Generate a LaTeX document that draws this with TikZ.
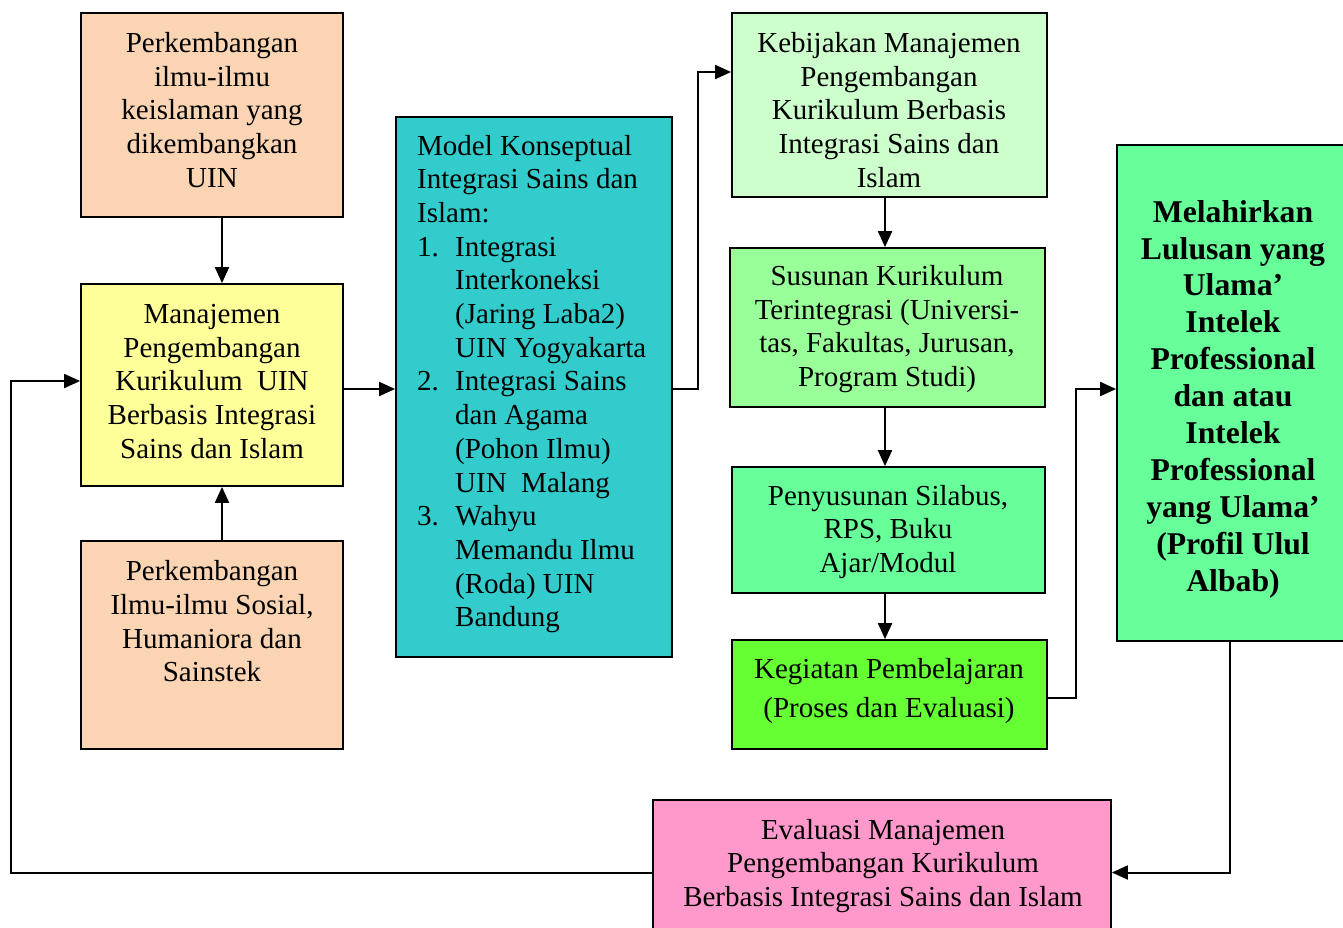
\documentclass[tikz,border=0pt]{standalone}
\usepackage{fontspec}
\setmainfont{Liberation Serif}
\usetikzlibrary{arrows.meta}
\definecolor{peach}{HTML}{FBD4B4}
\definecolor{paleyellow}{HTML}{FFFF99}
\definecolor{teal}{HTML}{33CCCC}
\definecolor{mint}{HTML}{CCFFCC}
\definecolor{lightgreen}{HTML}{99FF99}
\definecolor{seagreen}{HTML}{66FF99}
\definecolor{limegreen}{HTML}{66FF33}
\definecolor{pink}{HTML}{FF99CC}
\begin{document}
\begin{tikzpicture}[x=1pt,y=-1pt,
  box/.style={draw=black, line width=1.8pt, inner sep=0pt},
  txt/.style={font=\fontsize{29}{33.7}\selectfont, align=center, inner sep=0pt},
  conn/.style={line width=2pt, -{Triangle[length=16pt,width=14pt]}},
  line/.style={line width=2pt}]
\useasboundingbox (0,0) rectangle (1343,927);
\begin{scope}
\clip (0,0) rectangle (1343,927);

% boxes
\node[box, fill=peach, minimum width=262pt, minimum height=204pt] (A) at (212,115) {};
\node[box, fill=paleyellow, minimum width=262pt, minimum height=202pt] (B) at (212,385) {};
\node[box, fill=peach, minimum width=262pt, minimum height=208pt] (C) at (212,645) {};
\node[box, fill=teal, minimum width=276pt, minimum height=540pt] (D) at (534,387) {};
\node[box, fill=mint, minimum width=315pt, minimum height=184pt] (E) at (889.5,105) {};
\node[box, fill=lightgreen, minimum width=315pt, minimum height=159pt] (F) at (887.5,327.5) {};
\node[box, fill=seagreen, minimum width=313pt, minimum height=126pt] (G) at (888.5,530) {};
\node[box, fill=limegreen, minimum width=315pt, minimum height=109pt] (H) at (889.5,694.5) {};
\node[box, fill=seagreen, minimum width=243pt, minimum height=496pt] (I) at (1238.5,393) {};
\node[box, fill=pink, minimum width=458pt, minimum height=145pt] (J) at (882,872.5) {};

\coordinate (vx) at (885,0);

% connectors
\draw[conn] ([xshift=10pt]A.south) -- ([xshift=10pt]B.north);
\draw[conn] ([xshift=10pt]C.north) -- ([xshift=10pt]B.south);
\draw[conn] ([yshift=-4pt]B.east) -- ([yshift=-2pt]D.west);
\draw[conn] ([yshift=-2pt]D.east) -- ++(25,0) |- ([yshift=33pt]E.west);
\draw[conn] (E.south -| vx) -- (F.north -| vx);
\draw[conn] (F.south -| vx) -- (G.north -| vx);
\draw[conn] (G.south -| vx) -- (H.north -| vx);
\draw[conn] ([yshift=-3.5pt]H.east) -- ++(28,0) |- ([yshift=4pt]I.west);
\draw[conn] ([xshift=-8.5pt]I.south) |- (J.east);
\draw[conn] (J.west) -- ++(-641,0) |- ([yshift=4pt]B.west);

% texts
\node[txt] (ta) at (212,110) {Perkembangan\\ilmu-ilmu\\keislaman yang\\dikembangkan\\UIN};
\node[txt] (tb) at (212,381.5) {Manajemen\\Pengembangan\\Kurikulum\ \ UIN\\Berbasis Integrasi\\Sains dan Islam};
\node[txt] (tc) at (212,621.5) {Perkembangan\\Ilmu-ilmu Sosial,\\Humaniora dan\\Sainstek};
\node[txt, align=left, anchor=west] (td) at (417,384) {Model Konseptual\\Integrasi Sains dan\\Islam:\\
  \makebox[38pt][l]{1.}Integrasi\\\hspace*{38pt}Interkoneksi\\\hspace*{38pt}(Jaring Laba2)\\\hspace*{38pt}UIN Yogyakarta\\
  \makebox[38pt][l]{2.}Integrasi Sains\\\hspace*{38pt}dan Agama\\\hspace*{38pt}(Pohon Ilmu)\\\hspace*{38pt}UIN\ \ Malang\\
  \makebox[38pt][l]{3.}Wahyu\\\hspace*{38pt}Memandu Ilmu\\\hspace*{38pt}(Roda) UIN\\\hspace*{38pt}Bandung};
\node[txt] (te) at (889,110) {Kebijakan Manajemen\\Pengembangan\\Kurikulum Berbasis\\Integrasi Sains dan\\Islam};
\node[txt] (tf) at (887,329) {Susunan Kurikulum\\Terintegrasi (Universi-\\tas, Fakultas, Jurusan,\\Program Studi)};
\node[txt] (tg) at (888,532) {Penyusunan Silabus,\\RPS, Buku\\Ajar/Modul};
\node[txt, font=\fontsize{29}{39}\selectfont] (th) at (889,691) {Kegiatan Pembelajaran\\(Proses dan Evaluasi)};
\node[txt, font=\fontsize{31.7}{36.9}\selectfont\bfseries] (ti) at (1233,399) {Melahirkan\\Lulusan yang\\Ulama’\\Intelek\\Professional\\dan atau\\Intelek\\Professional\\yang Ulama’\\(Profil Ulul\\Albab)};
\node[txt] (tj) at (883,866) {Evaluasi Manajemen\\Pengembangan Kurikulum\\Berbasis Integrasi Sains dan Islam};
\end{scope}
\end{tikzpicture}
\end{document}
